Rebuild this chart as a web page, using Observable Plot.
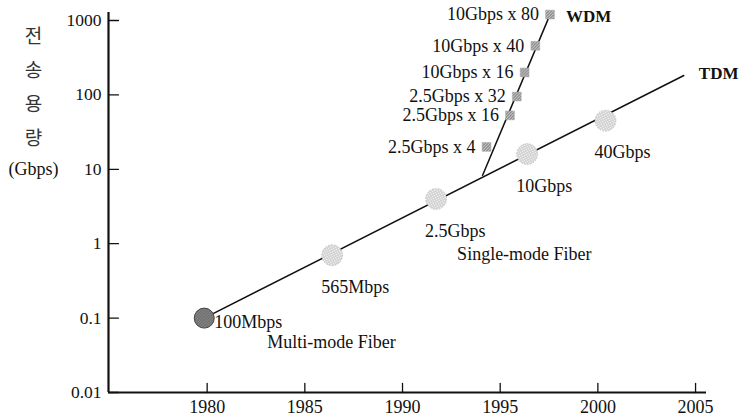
<!DOCTYPE html>
<html>
<head>
<meta charset="utf-8">
<script src="https://cdn.jsdelivr.net/npm/d3@7"></script>
<script src="https://cdn.jsdelivr.net/npm/@observablehq/plot@0.6"></script>
<style>
  html, body { margin: 0; padding: 0; background: #fff; }
</style>
</head>
<body>
<div id="chart"></div>
<script>
// ---- data ----
const xDomain = [1974.95, 2005.56];
const yDomain = [0.01, 1280];
const xTicks = [1980, 1985, 1990, 1995, 2000, 2005];
const yTicks = [0.01, 0.1, 1, 10, 100, 1000];
const yTickLabels = ["0.01", "0.1", "1", "10", "100", "1000"];

const tdmYears = [1979.85, 1986.4, 1991.72, 1996.38, 2000.39];
const tdmValues = [0.1, 0.7, 4, 16, 45];
const tdmLabels = ["100Mbps", "565Mbps", "2.5Gbps", "10Gbps", "40Gbps"];
const tdmLineYears = [1979.85, 2004.4];
const tdmLineValues = [0.1, 182];

const wdmYears = [1994.3, 1995.5, 1995.85, 1996.25, 1996.8, 1997.55];
const wdmValues = [20, 53, 95, 200, 457, 1200];
const wdmLabels = ["2.5Gbps x 4", "2.5Gbps x 16", "2.5Gbps x 32", "10Gbps x 16", "10Gbps x 40", "10Gbps x 80"];
const wdmLineYears = [1994.1, 1997.55];
const wdmLineValues = [8.3, 1200];

const yLabelKo = "전\n송\n용\n량";
const yLabelUnit = "(Gbps)";
const seriesNames = ["TDM", "WDM"];
const fiberNames = ["Multi-mode Fiber", "Single-mode Fiber"];

// ---- tables ----
const tdm = tdmYears.map((x, i) => ({x, y: tdmValues[i], label: tdmLabels[i]}));
const wdm = wdmYears.map((x, i) => ({x, y: wdmValues[i], label: wdmLabels[i]}));
const tdmLine = tdmLineYears.map((x, i) => ({x, y: tdmLineValues[i]}));
const wdmLine = wdmLineYears.map((x, i) => ({x, y: wdmLineValues[i]}));

const serif = "'Liberation Serif', 'DejaVu Serif', serif";
const tickShape = {draw(context, l) { context.moveTo(0, 0); context.lineTo(0, -l); }};
const FS = 18;

const plot = Plot.plot({
  width: 741,
  height: 417,
  marginLeft: 108,
  marginRight: 35,
  marginTop: 12,
  marginBottom: 25,
  style: {fontFamily: serif, fontSize: FS + "px", color: "#111", background: "#fff"},
  x: {type: "linear", domain: xDomain},
  y: {type: "log", domain: yDomain},
  marks: [
    Plot.axisX({ticks: xTicks, tickSize: 0, tickPadding: 8, tickFormat: d => String(d), label: null, fontSize: 18}),
    Plot.axisY({ticks: yTicks, tickSize: 0, tickPadding: 7, tickFormat: d => yTickLabels[yTicks.indexOf(d)], label: null, fontSize: 17.5}),
    // inward ticks
    Plot.vector(yTicks, {y: d => d, frameAnchor: "left", length: 10, rotate: 90, anchor: "start", shape: tickShape, stroke: "#111", strokeWidth: 1.3}),
    Plot.vector(xTicks, {x: d => d, frameAnchor: "bottom", length: 9, rotate: 0, anchor: "start", shape: tickShape, stroke: "#111", strokeWidth: 1.3}),
    // axis lines
    Plot.ruleX([xDomain[0]], {stroke: "#111", strokeWidth: 2.2}),
    Plot.ruleY([yDomain[0]], {stroke: "#111", strokeWidth: 2.2}),
    // lines
    Plot.line(tdmLine, {x: "x", y: "y", stroke: "#111", strokeWidth: 1.5}),
    Plot.line(wdmLine, {x: "x", y: "y", stroke: "#111", strokeWidth: 1.5}),
    // TDM markers
    Plot.dot(tdm.slice(1), {x: "x", y: "y", r: 10.5, fill: "url(#stipLight)", stroke: "#bbb", strokeWidth: 0.8, strokeDasharray: "1.5,1.5"}),
    Plot.dot(tdm.slice(0, 1), {x: "x", y: "y", r: 10, fill: "url(#stipDark)", stroke: "#444", strokeWidth: 1}),
    // WDM markers
    Plot.dot(wdm, {x: "x", y: "y", symbol: "square", r: 5, fill: "url(#stipSq)", stroke: "#aaa", strokeWidth: 0.5}),
    // labels
    Plot.text(tdm.slice(1), {x: "x", y: "y", text: "label", textAnchor: "start", dx: -11, dy: 32, fontSize: FS, fill: "#111"}),
    Plot.text(tdm.slice(0, 1), {x: "x", y: "y", text: "label", textAnchor: "start", dx: 10, dy: 4, fontSize: FS, fill: "#111"}),
    Plot.text(wdm, {x: "x", y: "y", text: "label", textAnchor: "end", dx: -11, dy: 0, fontSize: FS, fill: "#111"}),
    Plot.text(tdm.slice(0, 1), {x: "x", y: "y", text: () => fiberNames[0], textAnchor: "start", dx: 63, dy: 24, fontSize: FS, fill: "#111"}),
    Plot.text(tdm.slice(2, 3), {x: "x", y: "y", text: () => fiberNames[1], textAnchor: "start", dx: 21, dy: 55, fontSize: FS, fill: "#111"}),
    Plot.text(tdmLine.slice(1), {x: "x", y: "y", text: () => seriesNames[0], textAnchor: "start", dx: 15, dy: -2, fontSize: 17, fontWeight: "bold", fill: "#111"}),
    Plot.text(wdm.slice(-1), {x: "x", y: "y", text: () => seriesNames[1], textAnchor: "start", dx: 16, dy: 2, fontSize: 17, fontWeight: "bold", fill: "#111"}),
    // y label
    Plot.text([yLabelKo], {text: d => d, frameAnchor: "top-left", dx: -75, dy: 6, lineAnchor: "top", lineHeight: 1.8, textAnchor: "middle", fontSize: 19, fontFamily: "'Noto Sans CJK KR', sans-serif", fill: "#333"}),
    Plot.text([yLabelUnit], {text: d => d, y: () => 10, frameAnchor: "left", dx: -75, textAnchor: "middle", fontSize: FS, fill: "#111"})
  ]
});

// stipple patterns
const svg = d3.select(plot.tagName === "svg" ? plot : plot.querySelector("svg"));
const defs = svg.insert("defs", ":first-child");
function pattern(id, bg, dot, size, pts) {
  const p = defs.append("pattern").attr("id", id).attr("width", size).attr("height", size).attr("patternUnits", "userSpaceOnUse");
  p.append("rect").attr("width", size).attr("height", size).attr("fill", bg);
  pts.forEach(([x, y]) => p.append("rect").attr("x", x).attr("y", y).attr("width", 1).attr("height", 1).attr("fill", dot));
}
pattern("stipLight", "#eeeeee", "#8c8c8c", 5, [[0, 0], [3, 1], [1, 2], [4, 3], [2, 4]]);
pattern("stipDark", "#8a8a8a", "#555", 3, [[0, 0], [2, 1], [1, 2]]);
pattern("stipSq", "#c4c4c4", "#666", 3, [[0, 0], [2, 1], [1, 2]]);

document.getElementById("chart").appendChild(plot);
</script>
</body>
</html>
